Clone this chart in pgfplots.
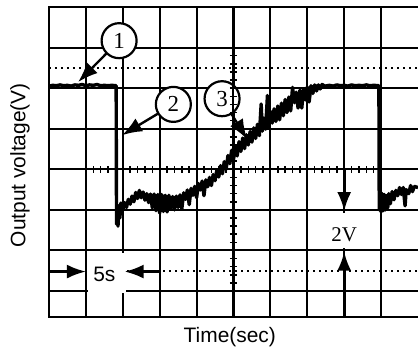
\documentclass[border=0pt]{standalone}
\usepackage{pgfplots}
\pgfplotsset{compat=1.18}
\usepackage{fontspec}
\setmainfont{Liberation Serif}
\newfontfamily\arial{Liberation Sans}
\usetikzlibrary{arrows.meta}
\begin{document}
\begin{tikzpicture}
\begin{axis}[name=ax, at={(0,0)}, anchor=south west,
  scale only axis, width=369bp, height=310bp,
  xmin=0, xmax=10, ymin=-3.64, ymax=4,
  xtick={1,...,9}, ytick={-3,...,3},
  xticklabels={}, yticklabels={},
  major tick length=0pt,
  grid=major, major grid style={black, line width=2bp},
  axis line style={draw=none},
  clip=false]
% dotted reference lines
\draw[line width=1.8bp, dash pattern=on 1.8bp off 4.2bp] (axis cs:0,2.5) -- (axis cs:10,2.5);
\draw[line width=1.8bp, dash pattern=on 1.8bp off 4.2bp] (axis cs:0,-2.5) -- (axis cs:10,-2.5);
% white boxes behind labels
\fill[white] (axis cs:1.06,-2.06) rectangle (axis cs:2.1,-3.05);
\fill[white] (axis cs:7.7,-1.07) rectangle (axis cs:8.3,-1.93);
% trace
\addplot[black, line width=3.4bp, line join=round] coordinates {
(0,2.05)(0.1,2.07)(0.2,2.06)(0.3,2.08)(0.4,2.06)(0.5,2.07)(0.6,2.05)(0.7,2.08)(0.8,2.07)(0.9,2.09)
(1.0,2.06)(1.1,2.08)(1.2,2.07)(1.3,2.09)(1.4,2.06)(1.5,2.07)(1.6,2.06)(1.7,2.07)(1.82,2.06)
(1.83,-1.35)(1.85,-0.95)(1.87,-1.4)(1.89,-0.9)(1.92,-1.2)(1.95,-0.83)
(2.00,-1.00)(2.05,-0.82)(2.10,-0.94)(2.15,-0.74)(2.20,-0.86)(2.25,-0.66)(2.30,-0.80)(2.35,-0.57)
(2.40,-0.72)(2.45,-0.52)(2.50,-0.70)(2.55,-0.56)(2.60,-0.76)(2.65,-0.60)(2.70,-0.82)(2.75,-0.61)
(2.80,-0.95)(2.85,-0.61)(2.90,-1.02)(2.95,-0.62)(3.00,-1.08)(3.05,-0.62)(3.10,-1.04)(3.15,-0.64)
(3.20,-1.05)(3.25,-0.64)(3.30,-0.96)(3.35,-0.67)(3.40,-1.00)(3.45,-0.66)(3.50,-0.94)(3.55,-0.63)
(3.60,-0.97)(3.65,-0.58)(3.70,-0.74)(3.75,-0.51)(3.80,-0.87)(3.85,-0.47)(3.90,-0.64)(3.95,-0.42)
(4.00,-0.70)(4.05,-0.35)(4.10,-0.51)(4.15,-0.29)(4.20,-0.65)(4.25,-0.26)(4.30,-0.43)(4.35,-0.20)
(4.40,-0.40)(4.45,-0.13)(4.50,-0.28)(4.55,-0.01)(4.60,-0.19)(4.65,0.09)(4.70,-0.11)(4.75,0.19)
(4.80,0.00)(4.85,0.34)(4.90,0.14)(4.95,0.47)(5.00,0.24)(5.05,0.57)(5.10,0.33)(5.15,0.68)
(5.20,0.44)(5.25,0.77)(5.30,0.51)(5.35,0.85)(5.40,0.60)(5.45,0.93)(5.50,0.67)(5.55,1.02)
(5.60,0.76)(5.65,1.11)(5.70,0.83)(5.75,1.61)(5.78,0.94)(5.82,1.26)(5.87,0.99)(5.92,1.82)
(5.95,1.04)(6.00,1.43)(6.05,1.14)(6.10,1.49)(6.15,1.18)(6.20,1.56)(6.25,1.22)(6.30,1.63)
(6.35,1.32)(6.40,1.72)(6.45,1.40)(6.50,1.78)(6.55,1.44)(6.60,2.02)(6.65,1.64)(6.70,1.90)
(6.75,1.51)(6.80,1.95)(6.85,1.51)(6.90,1.98)(6.95,1.71)(7.00,2.03)(7.05,1.66)(7.10,2.06)
(7.15,1.87)(7.20,2.08)(7.25,1.93)(7.30,2.08)(7.35,1.98)(7.40,2.09)(7.48,2.05)
(7.6,2.07)(7.7,2.05)(7.8,2.08)(7.9,2.06)(8.0,2.07)(8.1,2.05)(8.2,2.08)(8.3,2.06)(8.4,2.07)
(8.5,2.06)(8.6,2.08)(8.7,2.06)(8.8,2.07)(8.94,2.06)
(8.95,-1.0)(8.97,-0.6)(9.0,-1.05)(9.03,-0.6)(9.06,-1.02)(9.09,-0.62)(9.12,-1.0)(9.15,-0.65)
(9.18,-0.95)(9.21,-0.6)(9.25,-0.85)(9.3,-0.55)(9.35,-0.75)(9.4,-0.52)(9.45,-0.65)(9.5,-0.45)
(9.55,-0.62)(9.6,-0.45)(9.65,-0.9)(9.68,-0.5)(9.75,-0.6)(9.8,-0.4)(9.85,-0.55)(9.9,-0.42)(10,-0.45)
};
% 5s annotation
\draw[-{Latex[length=19bp,width=14bp]}, line width=2.4bp] (axis cs:0,-2.52) -- (axis cs:1,-2.52);
\draw[-{Latex[length=19bp,width=14bp]}, line width=2.4bp] (axis cs:3,-2.52) -- (axis cs:2.05,-2.52);
\node[font=\arial\fontsize{21}{21}\selectfont] at (axis cs:1.5,-2.58) {5s};
% 2V annotation
\draw[-{Latex[length=19bp,width=14bp]}, line width=2.6bp] (axis cs:8,0) -- (axis cs:8,-1.03);
\draw[-{Latex[length=19bp,width=14bp]}, line width=2.6bp] (axis cs:8,-3.64) -- (axis cs:8,-2.03);
\node[font=\fontsize{21}{21}\selectfont] at (axis cs:8,-1.62) {2V};
% circled numbers
\draw[-{Latex[length=20bp,width=15bp]}, line width=2.4bp] (axis cs:1.90,3.17) -- (axis cs:0.79,2.15);
\draw[-{Latex[length=20bp,width=15bp]}, line width=2.4bp] (axis cs:3.37,1.60) -- (axis cs:1.98,0.84);
\draw[-{Latex[length=20bp,width=15bp]}, line width=2.4bp] (axis cs:4.69,1.74) -- (axis cs:5.37,0.74);
\node[circle, draw, fill=white, line width=2.2bp, minimum size=35bp, inner sep=0pt, font=\fontsize{23}{23}\selectfont] at (axis cs:1.90,3.17) {1};
\node[circle, draw, fill=white, line width=2.2bp, minimum size=35bp, inner sep=0pt, font=\fontsize{23}{23}\selectfont] at (axis cs:3.37,1.60) {2};
\node[circle, draw, fill=white, line width=2.2bp, minimum size=35bp, inner sep=0pt, font=\fontsize{23}{23}\selectfont] at (axis cs:4.69,1.74) {3};
% labels
\node[font=\arial\fontsize{21}{21}\selectfont, rotate=90] at (axis cs:-0.79,0.1) {Output voltage(V)};
\node[font=\arial\fontsize{21}{21}\selectfont] at (axis cs:4.9,-4.13) {Time(sec)};
% border
\draw[line width=2.6bp] (rel axis cs:1,1) -- (rel axis cs:0,1) -- (rel axis cs:0,0) -- (rel axis cs:1,0);
\end{axis}
\begin{axis}[at={(ax.south west)}, anchor=south west,
  scale only axis, width=369bp, height=310bp,
  xmin=-5, xmax=5, ymin=-3.64, ymax=4,
  axis lines=center, axis line style={-, line width=2bp, black},
  xtick={-4,...,4}, ytick={-3,...,3},
  xticklabels={}, yticklabels={},
  minor tick num=4,
  major tick length=7bp, minor tick length=7bp, tick align=center,
  every tick/.style={line width=1.5bp, black},
  minor tick style={line width=1.5bp, black}]
\end{axis}
\pgfresetboundingbox
\path[use as bounding box] ([xshift=-49bp,yshift=-38bp]ax.south west) rectangle ([yshift=7bp]ax.north east);
\end{tikzpicture}
\end{document}
